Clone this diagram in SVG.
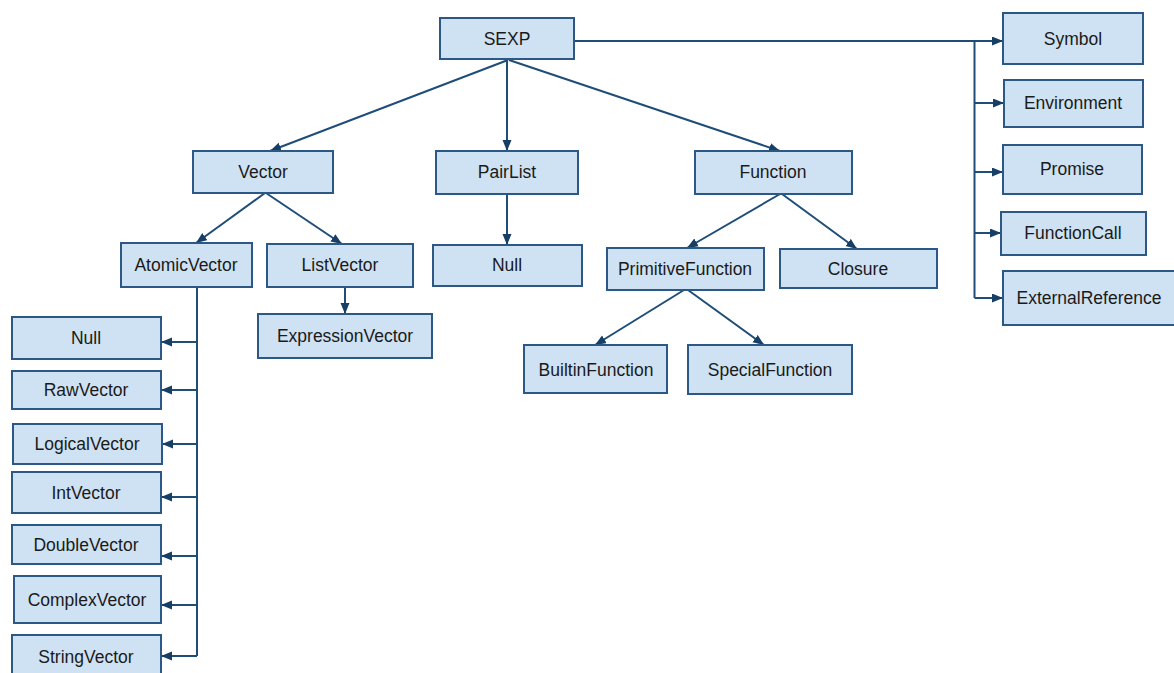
<svg xmlns="http://www.w3.org/2000/svg" width="1174" height="673" viewBox="0 0 1174 673">
<style>
.node rect{fill:#cfe2f3;stroke:#2b5884;stroke-width:2}
.node text{font-family:"Liberation Sans",Arial,sans-serif;font-size:17.5px;fill:#1a1a1a;text-anchor:middle;dominant-baseline:central}
.edges path{fill:none;stroke:#1f4d7a;stroke-width:2}
.edges path.arr{marker-end:url(#ah)}
</style>
<defs>
<marker id="ah" markerUnits="userSpaceOnUse" markerWidth="12" markerHeight="10" refX="11" refY="4.5" orient="auto">
<path d="M0,0 L11,4.5 L0,9 Z" fill="#173f66"/>
</marker>
</defs>
<rect width="1174" height="673" fill="#ffffff"/>
<g class="edges" id="connectors">
<path class="arr" d="M508,60 L270,151"/>
<path class="arr" d="M507,60 L507,151"/>
<path class="arr" d="M509,60 L780,151"/>
<path class="arr" d="M575,41 L1003,41"/>
<path d="M974.5,41 L974.5,298"/>
<path class="arr" d="M974.5,103 L1004,103"/>
<path class="arr" d="M974.5,172 L1003,172"/>
<path class="arr" d="M974.5,233 L1001,233"/>
<path class="arr" d="M974.5,298 L1003,298"/>
<path class="arr" d="M265,193 L196,243"/>
<path class="arr" d="M266,193 L342,244"/>
<path class="arr" d="M507,194 L507,245"/>
<path class="arr" d="M780,194 L687,248"/>
<path class="arr" d="M782,194 L857,249"/>
<path class="arr" d="M345,287 L345,314"/>
<path d="M197,287 L197,656"/>
<path class="arr" d="M197,342 L161,342"/>
<path class="arr" d="M197,390 L161,390"/>
<path class="arr" d="M197,444 L162,444"/>
<path class="arr" d="M197,497 L161,497"/>
<path class="arr" d="M197,556 L161,556"/>
<path class="arr" d="M197,605 L161,605"/>
<path class="arr" d="M197,656 L161,656"/>
<path class="arr" d="M684,290 L595,345"/>
<path class="arr" d="M688,290 L764,345"/>
</g>
<g class="node" id="n-sexp"><rect x="440" y="18" width="134" height="41"/><text x="507" y="39">SEXP</text></g>
<g class="node" id="n-vector"><rect x="193" y="151" width="140" height="42"/><text x="263" y="172">Vector</text></g>
<g class="node" id="n-pairlist"><rect x="436" y="151" width="142" height="43"/><text x="507" y="172">PairList</text></g>
<g class="node" id="n-function"><rect x="695" y="151" width="157" height="43"/><text x="773" y="172">Function</text></g>
<g class="node" id="n-atomicvector"><rect x="121" y="243" width="131" height="44"/><text x="186" y="265">AtomicVector</text></g>
<g class="node" id="n-listvector"><rect x="267" y="244" width="146" height="43"/><text x="340" y="265">ListVector</text></g>
<g class="node" id="n-null-pair"><rect x="433" y="245" width="149" height="41"/><text x="507" y="265">Null</text></g>
<g class="node" id="n-primitivefunction"><rect x="607" y="248" width="157" height="42"/><text x="685" y="269">PrimitiveFunction</text></g>
<g class="node" id="n-closure"><rect x="780" y="249" width="157" height="39"/><text x="858" y="269">Closure</text></g>
<g class="node" id="n-expressionvector"><rect x="258" y="314" width="174" height="44"/><text x="345" y="336">ExpressionVector</text></g>
<g class="node" id="n-builtinfunction"><rect x="524" y="345" width="143" height="48"/><text x="596" y="370">BuiltinFunction</text></g>
<g class="node" id="n-specialfunction"><rect x="688" y="345" width="164" height="49"/><text x="770" y="370">SpecialFunction</text></g>
<g class="node" id="n-symbol"><rect x="1003" y="13" width="140" height="51"/><text x="1073" y="39">Symbol</text></g>
<g class="node" id="n-environment"><rect x="1004" y="80" width="139" height="47"/><text x="1073" y="103">Environment</text></g>
<g class="node" id="n-promise"><rect x="1003" y="145" width="139" height="49"/><text x="1072" y="169">Promise</text></g>
<g class="node" id="n-functioncall"><rect x="1001" y="212" width="145" height="43"/><text x="1073" y="233">FunctionCall</text></g>
<g class="node" id="n-externalreference"><rect x="1003" y="271" width="175" height="54"/><text x="1089" y="298">ExternalReference</text></g>
<g class="node" id="n-null"><rect x="12" y="317" width="149" height="42"/><text x="86" y="338">Null</text></g>
<g class="node" id="n-rawvector"><rect x="12" y="371" width="149" height="38"/><text x="86" y="390">RawVector</text></g>
<g class="node" id="n-logicalvector"><rect x="13" y="424" width="149" height="40"/><text x="87" y="444">LogicalVector</text></g>
<g class="node" id="n-intvector"><rect x="12" y="472" width="149" height="41"/><text x="86" y="493">IntVector</text></g>
<g class="node" id="n-doublevector"><rect x="12" y="525" width="149" height="39"/><text x="86" y="545">DoubleVector</text></g>
<g class="node" id="n-complexvector"><rect x="14" y="576" width="147" height="47"/><text x="87" y="600">ComplexVector</text></g>
<g class="node" id="n-stringvector"><rect x="12" y="635" width="149" height="45"/><text x="86" y="657">StringVector</text></g>
</svg>
